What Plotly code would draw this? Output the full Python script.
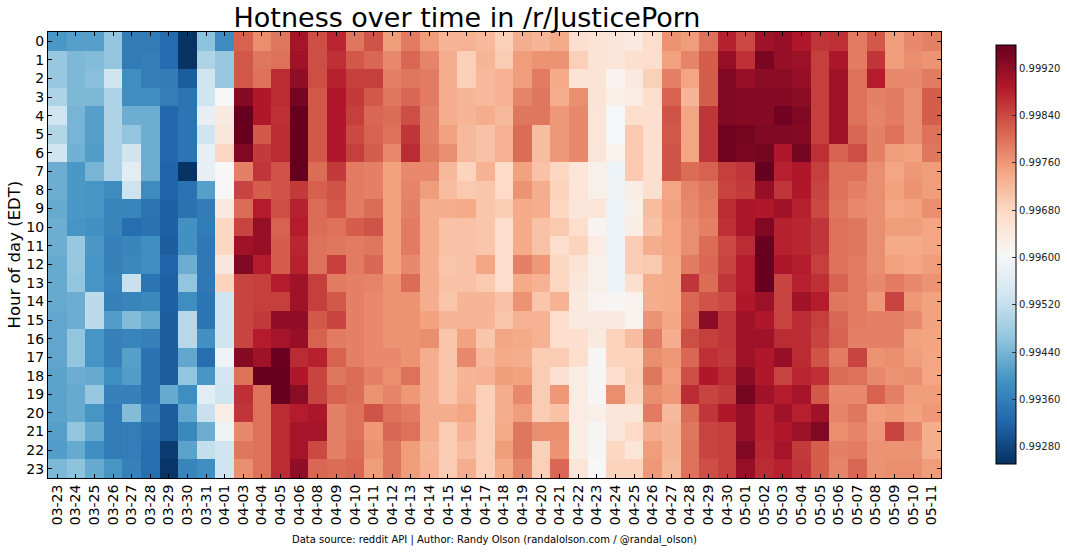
import numpy as np
import plotly.graph_objects as go

# hour labels and dates
hours = [str(h) for h in range(24)]
dates = ["03-23","03-24","03-25","03-26","03-27","03-28","03-29","03-30","03-31","04-01",
         "04-03","04-04","04-05","04-06","04-08","04-09","04-10","04-11","04-12","04-13",
         "04-14","04-15","04-16","04-17","04-18","04-19","04-20","04-21","04-22","04-23",
         "04-24","04-25","04-26","04-27","04-28","04-29","04-30","05-01","05-02","05-03",
         "05-04","05-05","05-06","05-07","05-08","05-09","05-10","05-11"]
colorbar_ticks = [0.9928, 0.9936, 0.9944, 0.9952, 0.9960, 0.9968, 0.9976, 0.9984, 0.9992]

# values per date, hour 0..23, in units of 1e-5 above 0.99
d0323 = [400,470,470,495,535,500,535,430,430,425,430,430,425,425,425,420,420,420,415,415,415,410,405,445]
d0324 = [410,445,445,445,440,440,435,400,400,400,395,470,470,465,430,430,465,465,430,425,425,465,425,460]
d0325 = [410,450,455,445,410,410,405,440,395,395,390,400,395,395,510,510,395,395,425,470,395,425,385,425]
d0326 = [465,465,535,495,495,495,495,495,380,370,370,365,365,370,365,405,365,365,385,365,355,355,355,395]
d0327 = [355,355,385,385,430,465,535,565,530,370,335,370,375,525,370,450,370,410,405,365,450,360,360,365]
d0328 = [355,360,360,385,430,430,430,430,380,345,340,385,385,345,375,425,365,340,340,340,365,340,335,335]
d0329 = [330,330,355,360,325,325,325,320,320,315,315,310,320,315,315,310,310,310,310,425,310,310,265,258]
d0330 = [255,255,310,345,345,345,345,255,340,340,390,390,430,465,385,505,505,420,465,385,420,375,415,370]
d0331 = [460,495,535,535,575,535,575,575,410,355,355,350,350,350,345,345,390,335,395,565,525,430,520,385]
d0401 = [380,470,470,605,640,645,680,605,605,640,680,680,645,685,535,535,535,585,540,535,630,590,535,535]
d0403 = [815,825,825,930,959,959,935,785,845,805,845,905,935,845,845,845,845,930,800,865,860,775,795,770]
d0404 = [770,795,800,890,890,825,855,860,820,885,915,915,885,850,850,855,885,905,959,800,800,800,800,800]
d0405 = [795,800,870,870,865,870,870,830,830,835,815,820,820,885,850,920,900,955,959,959,870,870,870,870]
d0406 = [900,905,920,945,959,959,959,959,855,880,885,875,880,905,905,920,915,870,890,925,885,900,900,920]
d0408 = [835,835,835,825,825,825,825,805,818,805,805,800,800,850,850,825,815,880,845,845,895,900,840,810]
d0409 = [875,865,880,890,890,890,890,855,830,825,800,795,850,790,825,845,790,815,795,815,785,785,785,805]
d0410 = [795,825,850,855,850,840,850,790,790,790,820,790,790,785,785,785,785,785,805,805,800,800,805,810]
d0411 = [830,810,850,825,810,815,820,785,785,805,830,795,810,780,775,775,775,775,785,765,830,760,765,755]
d0412 = [755,775,785,795,805,800,775,750,750,750,750,750,750,765,765,765,765,775,770,780,800,810,795,795]
d0413 = [790,810,795,810,835,860,870,775,780,785,790,790,775,805,765,765,765,765,800,760,790,800,755,755]
d0414 = [755,780,790,790,785,785,790,775,755,735,735,735,735,735,735,750,770,735,735,735,735,735,725,730]
d0415 = [725,735,735,735,735,750,770,720,715,735,710,710,705,710,705,725,705,705,705,705,735,695,695,695]
d0416 = [730,690,690,725,725,720,720,685,700,740,710,710,710,710,725,725,750,775,725,730,745,730,715,735]
d0417 = [720,725,720,720,735,710,710,730,705,705,705,705,745,700,725,725,705,720,730,690,690,690,690,690]
d0418 = [690,695,730,730,720,730,730,675,675,695,670,670,670,670,710,705,745,740,755,735,735,740,755,740]
d0419 = [735,755,755,780,795,805,805,750,765,740,740,740,785,740,765,730,740,735,750,775,755,795,795,780]
d0420 = [725,765,790,795,795,715,715,710,735,735,710,710,760,730,705,730,730,695,695,695,695,770,690,690]
d0421 = [740,765,740,735,760,760,760,680,685,680,700,670,680,680,730,670,670,695,660,760,710,770,765,810]
d0422 = [665,690,655,770,775,775,775,650,650,650,670,685,655,645,640,640,665,670,630,635,635,630,630,650]
d0423 = [655,655,655,655,650,650,650,625,625,650,615,635,625,625,615,640,640,610,610,610,625,610,610,605]
d0424 = [650,650,615,625,600,600,620,585,590,585,585,585,585,585,610,640,685,685,665,770,650,650,680,685]
d0425 = [640,665,640,635,670,700,700,700,630,625,630,695,695,665,620,620,715,685,690,685,650,675,650,685]
d0426 = [670,670,690,670,665,665,665,665,665,715,710,735,700,735,735,765,790,770,795,770,790,735,755,760]
d0427 = [765,750,785,815,830,825,830,830,745,750,745,745,740,740,740,745,735,760,755,760,720,725,725,720]
d0428 = [755,780,745,725,745,745,745,805,780,775,770,770,790,860,810,815,835,810,835,870,805,795,800,800]
d0429 = [800,820,820,820,860,860,860,815,795,790,785,805,810,805,830,925,850,865,890,845,860,845,845,835]
d0430 = [880,915,935,935,935,950,950,850,845,870,865,840,845,860,840,860,860,855,870,855,890,850,850,850]
d0501 = [840,865,915,930,930,945,940,860,855,895,895,870,885,885,890,905,905,905,925,945,915,915,935,915]
d0502 = [905,940,925,930,930,935,945,959,915,890,935,955,959,959,910,890,905,890,890,905,880,880,875,870]
d0503 = [915,915,925,930,950,935,890,880,860,905,880,880,895,845,845,845,870,915,845,885,905,890,900,880]
d0504 = [890,910,915,925,935,930,945,890,890,880,875,875,885,880,905,870,870,870,875,900,880,910,855,860]
d0505 = [860,850,850,850,850,850,865,850,845,840,860,860,850,865,885,850,845,830,865,825,905,935,820,820]
d0506 = [865,895,905,905,905,905,815,800,800,795,800,800,800,815,795,810,815,790,805,775,780,770,785,780]
d0507 = [790,790,800,800,800,810,835,800,785,775,795,795,790,790,790,790,785,845,800,775,795,780,790,810]
d0508 = [825,860,885,785,780,785,785,770,770,770,770,770,770,775,760,785,785,765,775,815,755,760,765,765]
d0509 = [755,755,775,790,790,800,755,745,750,745,755,740,750,790,845,785,785,770,765,785,760,845,765,770]
d0510 = [775,770,775,770,770,770,750,760,765,750,755,740,745,775,760,775,750,755,770,755,750,780,765,770]
d0511 = [785,765,790,820,820,800,795,755,755,770,745,745,755,765,750,750,748,745,745,755,760,735,735,755]

columns = [d0323,d0324,d0325,d0326,d0327,d0328,d0329,d0330,d0331,d0401,d0403,d0404,d0405,d0406,d0408,d0409,
           d0410,d0411,d0412,d0413,d0414,d0415,d0416,d0417,d0418,d0419,d0420,d0421,d0422,d0423,d0424,d0425,
           d0426,d0427,d0428,d0429,d0430,d0501,d0502,d0503,d0504,d0505,d0506,d0507,d0508,d0509,d0510,d0511]
z = 0.99 + np.array(columns).T * 1e-5

W, H = 1067, 554
L, R, T, B = 47.5, 941, 32, 478
FONT = "DejaVu Sans"

fig = go.Figure(go.Heatmap(
    x=dates, y=hours, z=z,
    colorscale="RdBu_r", zmin=0.99251, zmax=0.99959,
    hovertemplate="%{x} %{y}h: %{z:.5f}<extra></extra>",
    colorbar=dict(
        x=(996.5 - L) / (R - L), xanchor="left", xpad=0, ypad=0,
        y=(B - 464) / (B - T), yanchor="bottom", lenmode="pixels", len=419, thickness=20,
        outlinecolor="black", outlinewidth=1,
        tickmode="array", tickvals=colorbar_ticks,
        ticktext=[f"{t:.5f}" for t in colorbar_ticks],
        ticks="inside", ticklen=4, tickcolor="#333", tickwidth=1,
        tickfont=dict(family=FONT, size=10, color="#222"),
    ),
))

fig.update_layout(
    width=W, height=H, autosize=False,
    paper_bgcolor="white", plot_bgcolor="white",
    margin=dict(l=L, r=W - R, t=T, b=H - B, pad=0, autoexpand=False),
    font=dict(family=FONT, color="black"),
    title=dict(text="Hotness over time in /r/JusticePorn", font=dict(size=27, family=FONT, color="black"),
               x=467 / W, xref="container", xanchor="center", y=1 - 18 / H, yref="container",
               yanchor="middle"),
    xaxis=dict(type="category", categoryorder="array", categoryarray=dates, tickmode="array",
               tickvals=dates, ticktext=dates, tickangle=-90, ticks="inside", ticklen=4, tickwidth=1,
               tickcolor="black", mirror="ticks", showline=True, linecolor="black", linewidth=1,
               showgrid=False, zeroline=False, automargin=False,
               tickfont=dict(size=14, family=FONT, color="black")),
    yaxis=dict(type="category", categoryorder="array", categoryarray=hours, autorange="reversed",
               tickmode="array", tickvals=hours, ticktext=hours, ticks="inside", ticklen=4, tickwidth=1,
               tickcolor="black", mirror="ticks", showline=True, linecolor="black", linewidth=1,
               showgrid=False, zeroline=False, automargin=False,
               tickfont=dict(size=14, family=FONT, color="black")),
    annotations=[
        dict(text="Data source: reddit API | Author: Randy Olson (randalolson.com / @randal_olson)",
             xref="paper", yref="paper", x=(494 - L) / (R - L), y=-(540 - B) / (B - T),
             xanchor="center", yanchor="middle", showarrow=False,
             font=dict(size=10, family=FONT, color="black")),
        dict(text="Hour of day (EDT)", textangle=-90,
             xref="paper", yref="paper", x=(13 - L) / (R - L), y=(B - 255) / (B - T),
             xanchor="center", yanchor="middle", showarrow=False,
             font=dict(size=16.5, family=FONT, color="black")),
    ],
)

fig.write_html("out.html", post_script="document.body.style.margin='0';",
               config={"displayModeBar": False})
